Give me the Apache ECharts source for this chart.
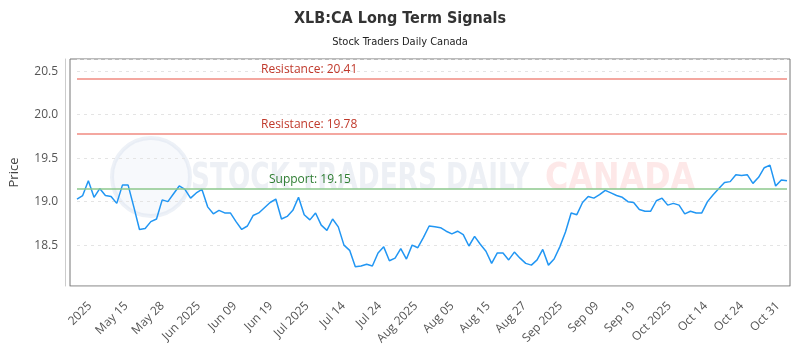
<!DOCTYPE html>
<html>
<head>
<meta charset="utf-8">
<script src="https://cdn.jsdelivr.net/npm/echarts@6/dist/echarts.min.js"></script>
<style>
  html, body { margin: 0; padding: 0; background: #fff; }
  #chart { width: 800px; height: 350px; }
</style>
</head>
<body>
<div id="chart"></div>
<script>
// closing prices, one per trading day (May 2 - Oct 31 2025)
var prices = [
  19.03, 19.07, 19.24, 19.05, 19.15, 19.07, 19.06, 18.98, 19.19, 19.19,
  18.94, 18.68, 18.69, 18.77, 18.80, 19.02, 19.00, 19.09, 19.18, 19.14,
  19.04, 19.10, 19.14, 18.94, 18.86, 18.90, 18.87, 18.87, 18.77, 18.68,
  18.72, 18.84, 18.87, 18.93, 18.99, 19.03, 18.80, 18.83, 18.90, 19.05,
  18.85, 18.79, 18.87, 18.73, 18.67, 18.80, 18.71, 18.50, 18.44, 18.25,
  18.26, 18.28, 18.26, 18.41, 18.48, 18.32, 18.35, 18.46, 18.34, 18.50,
  18.47, 18.59, 18.72, 18.71, 18.70, 18.66, 18.63, 18.66, 18.62, 18.49,
  18.60, 18.51, 18.43, 18.29, 18.41, 18.41, 18.33, 18.42, 18.35, 18.29,
  18.27, 18.33, 18.45, 18.27, 18.34, 18.48, 18.65, 18.87, 18.85, 18.99,
  19.06, 19.04, 19.08, 19.13, 19.10, 19.07, 19.05, 19.00, 18.99, 18.91,
  18.89, 18.89, 19.01, 19.04, 18.96, 18.98, 18.96, 18.86, 18.89, 18.87,
  18.87, 19.00, 19.08, 19.15, 19.22, 19.23, 19.31, 19.30, 19.31, 19.21,
  19.28, 19.39, 19.42, 19.18, 19.25, 19.24
];

var tickLabels = ['2025', 'May 15', 'May 28', 'Jun 2025', 'Jun 09', 'Jun 19', 'Jul 2025',
  'Jul 14', 'Jul 24', 'Aug 2025', 'Aug 05', 'Aug 15', 'Aug 27', 'Sep 2025', 'Sep 09',
  'Sep 19', 'Oct 2025', 'Oct 14', 'Oct 24', 'Oct 31'];

var resistanceLevels = [20.41, 19.78];
var supportLevels = [19.15];

var yMin = 18.03;
var yMax = 20.64;

// TSX trading days
var holidays = ['2025-05-19', '2025-07-01', '2025-08-04', '2025-09-01', '2025-10-13'];
var dates = [];
var d = new Date(Date.UTC(2025, 4, 2));
while (dates.length < prices.length) {
  var s = d.toISOString().slice(0, 10);
  var wd = d.getUTCDay();
  if (wd !== 0 && wd !== 6 && holidays.indexOf(s) < 0) dates.push(s);
  d.setUTCDate(d.getUTCDate() + 1);
}

var narrow = "'Liberation Sans Narrow', 'DejaVu Sans Condensed', sans-serif";
var axisFont = "'Open Sans', sans-serif";

var markData = [];
resistanceLevels.forEach(function (v) {
  markData.push({
    yAxis: v,
    lineStyle: { color: '#f08a80', width: 1.5, type: 'solid' },
    label: { formatter: 'Resistance: ' + v.toFixed(2), color: '#c0392b', distance: [184, 3] }
  });
});
supportLevels.forEach(function (v) {
  markData.push({
    yAxis: v,
    lineStyle: { color: '#8cc98c', width: 1.5, type: 'solid' },
    label: { formatter: 'Support: ' + v.toFixed(2), color: '#2e7d32', distance: [192, 3] }
  });
});

var chart = echarts.init(document.getElementById('chart'));
chart.setOption({
  animation: false,
  title: {
    text: 'XLB:CA Long Term Signals',
    subtext: 'Stock Traders Daily Canada',
    left: 'center',
    top: 6,
    itemGap: 10,
    textStyle: { fontFamily: narrow, fontSize: 16, fontWeight: 'bold', color: '#333' },
    subtextStyle: { fontFamily: narrow, fontSize: 11, color: '#222' }
  },
  graphic: [
    {
      type: 'circle', left: 110, top: 136, z: 0,
      shape: { r: 39 },
      style: { fill: 'rgba(225,232,242,0.25)', stroke: 'rgba(215,225,238,0.45)', lineWidth: 4 }
    },
    {
      type: 'text', left: 191, top: 160, z: 0, scaleX: 0.77,
      style: { text: 'STOCK TRADERS DAILY', font: 'bold 38px ' + narrow, fill: 'rgba(210,218,230,0.4)' }
    },
    {
      type: 'text', left: 545, top: 160, z: 0, scaleX: 0.93,
      style: { text: 'CANADA', font: 'bold 38px ' + narrow, fill: 'rgba(248,180,180,0.3)' }
    }
  ],
  grid: [
    { left: 72, right: 13, top: 59, bottom: 64 },
    { left: 70, right: 10, top: 59, bottom: 64, show: true, borderColor: '#777', borderWidth: 1, backgroundColor: 'transparent' },
    { left: 90, right: 22, top: 59, bottom: 64 }
  ],
  xAxis: [
    {
      type: 'category', gridIndex: 0, data: dates, boundaryGap: false,
      axisLine: { show: false }, axisTick: { show: false }, axisLabel: { show: false }, splitLine: { show: false }
    },
    {
      type: 'category', gridIndex: 1, data: tickLabels, boundaryGap: false, offset: 10,
      axisLine: { show: true, lineStyle: { color: '#ccc' } }, axisTick: { show: false },
      axisLabel: { show: false }, splitLine: { show: false }
    },
    {
      type: 'category', gridIndex: 2, data: tickLabels, boundaryGap: false, offset: 10,
      axisLine: { show: false }, axisTick: { show: false }, splitLine: { show: false },
      axisLabel: { interval: 0, rotate: 45, margin: 8, fontFamily: axisFont, fontSize: 12, color: '#555' }
    }
  ],
  yAxis: [
    {
      type: 'value', gridIndex: 0, min: yMin, max: yMax, offset: 12,
      name: 'Price', nameLocation: 'middle', nameGap: 44,
      nameTextStyle: { fontFamily: axisFont, fontSize: 13, color: '#444' },
      axisLine: { show: true, lineStyle: { color: '#ccc' } }, axisTick: { show: false },
      axisLabel: { showMinLabel: false, showMaxLabel: false, fontFamily: axisFont, fontSize: 12, color: '#555', margin: 7,
        formatter: function (v) { return v.toFixed(1); } },
      splitLine: { show: true, lineStyle: { color: '#e4e4e4', type: [3, 4] } }
    },
    { type: 'value', gridIndex: 1, show: false },
    { type: 'value', gridIndex: 2, show: false }
  ],
  series: [
    {
      type: 'line', xAxisIndex: 0, yAxisIndex: 0, data: prices,
      symbol: 'none', z: 3,
      lineStyle: { color: '#2196f3', width: 1.5 },
      markLine: {
        silent: true, symbol: 'none', precision: 2,
        label: { position: 'insideStartTop', fontFamily: axisFont, fontSize: 12 },
        data: markData
      }
    }
  ]
});
</script>
</body>
</html>
